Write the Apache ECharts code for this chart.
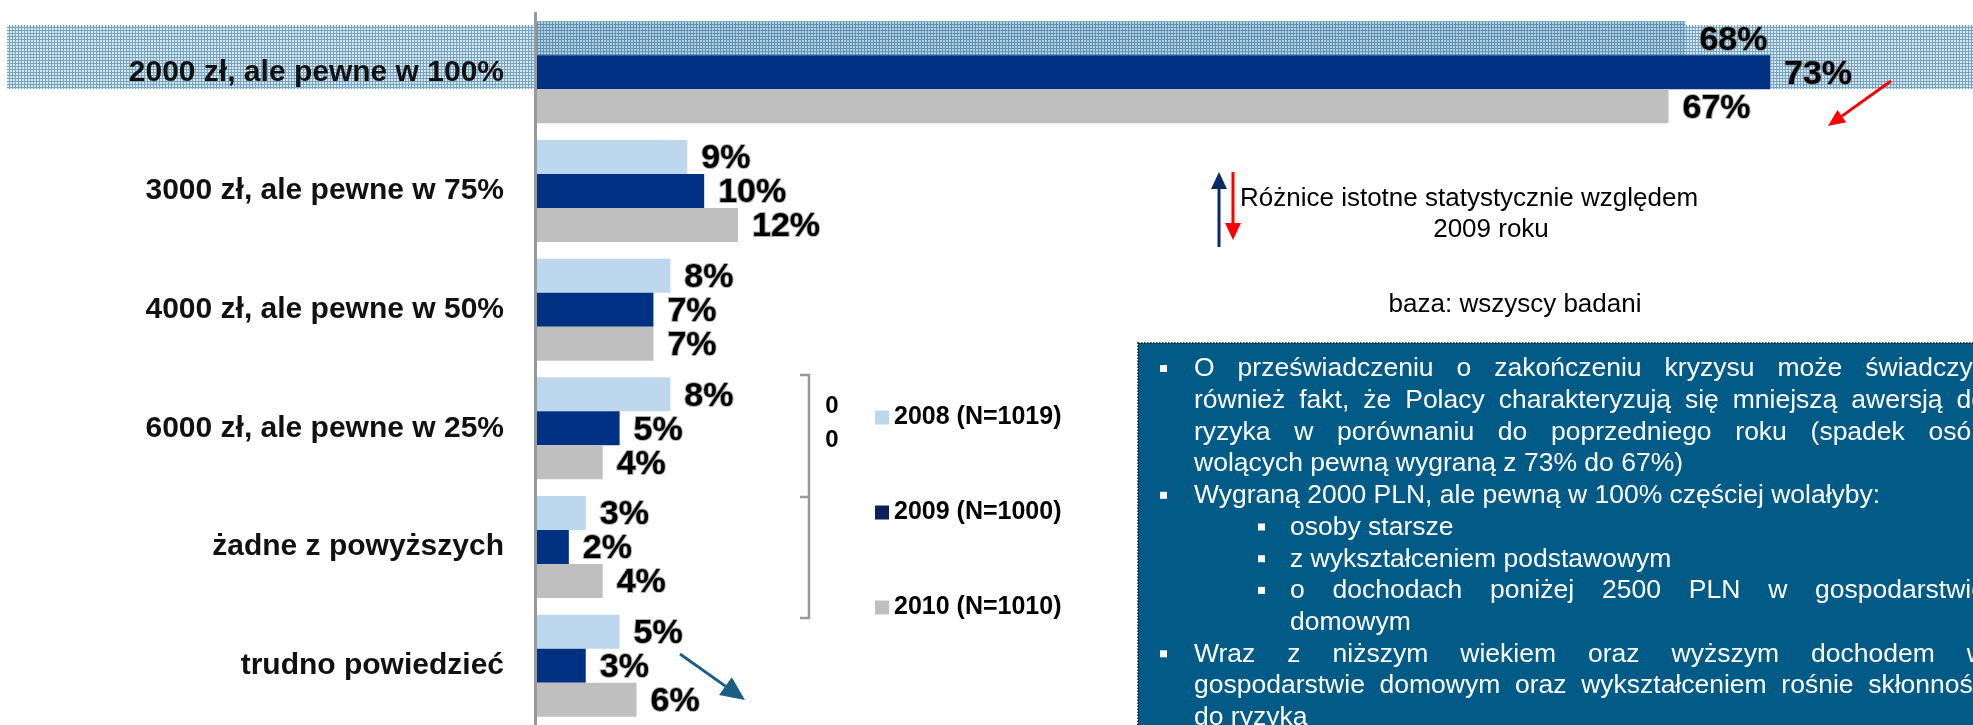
<!DOCTYPE html>
<html>
<head>
<meta charset="utf-8">
<script src="https://cdn.jsdelivr.net/npm/echarts@6/dist/echarts.min.js"></script>
<style>
  html, body { margin: 0; padding: 0; background: #fff; }
  #main { width: 1973px; height: 725px; }
</style>
</head>
<body>
<div id="main"></div>
<script>
// dane z wykresu
const categories = [
  '2000 zł, ale pewne w 100%',
  '3000 zł, ale pewne w 75%',
  '4000 zł, ale pewne w 50%',
  '6000 zł, ale pewne w 25%',
  'żadne z powyższych',
  'trudno powiedzieć'
];
const seriesNames = ['2008 (N=1019)', '2009 (N=1000)', '2010 (N=1010)'];
const values2008 = [68, 9, 8, 8, 3, 5];
const values2009 = [73, 10, 7, 5, 2, 3];
const values2010 = [67, 12, 7, 4, 4, 6];
const sideAxisLabels = ['0', '0'];

const noteLines = [
  { t: 'O przeświadczeniu o zakończeniu kryzysu może świadczyć', lvl: 0, bullet: true, just: true },
  { t: 'również fakt, że Polacy charakteryzują się mniejszą awersją do', lvl: 0, just: true },
  { t: 'ryzyka w porównaniu do poprzedniego roku  (spadek osób', lvl: 0, just: true },
  { t: 'wolących pewną wygraną z 73% do 67%)', lvl: 0 },
  { t: 'Wygraną 2000 PLN, ale pewną w 100% częściej wolałyby:', lvl: 0, bullet: true },
  { t: 'osoby starsze', lvl: 1, bullet: true },
  { t: 'z wykształceniem podstawowym', lvl: 1, bullet: true },
  { t: 'o dochodach poniżej 2500 PLN w gospodarstwie', lvl: 1, bullet: true, just: true },
  { t: 'domowym', lvl: 1 },
  { t: 'Wraz z niższym wiekiem oraz wyższym dochodem w', lvl: 0, bullet: true, just: true },
  { t: 'gospodarstwie domowym oraz wykształceniem rośnie skłonność', lvl: 0, just: true },
  { t: 'do ryzyka', lvl: 0 }
];

const barColors = ['#bdd7ee', '#003082', '#bfbfbf'];
const legendColors = ['#bdd7ee', '#0d1f5a', '#bfbfbf'];
const FONT = '"Liberation Sans", Arial, sans-serif';

var myChart = echarts.init(document.getElementById('main'));

// kratka (wyróżnienie pierwszego wiersza)
function makeTile(base, line) {
  const c = document.createElement('canvas');
  c.width = 3; c.height = 3;
  const g = c.getContext('2d');
  g.fillStyle = base;
  g.fillRect(0, 0, 3, 3);
  g.fillStyle = line;
  g.fillRect(0, 0, 3, 1);
  g.fillRect(0, 0, 1, 3);
  return c;
}
const rowTile = makeTile('#d9e7f0', '#76a3c0');
const barTile = makeTile('#b6d0e4', '#5f91b3');

function arrow(x1, y1, x2, y2, color, width, headLen, headW) {
  const a = Math.atan2(y2 - y1, x2 - x1);
  const bx = x2 - headLen * Math.cos(a), by = y2 - headLen * Math.sin(a);
  const nx = -Math.sin(a) * headW / 2, ny = Math.cos(a) * headW / 2;
  return [
    { type: 'line', z: 60, shape: { x1: x1, y1: y1, x2: bx, y2: by }, style: { stroke: color, lineWidth: width } },
    { type: 'polygon', z: 60, shape: { points: [[x2, y2], [bx + nx, by + ny], [bx - nx, by - ny]] }, style: { fill: color } }
  ];
}

// tekst w ramce, wyjustowany słowo po słowie
const measure = document.createElement('canvas').getContext('2d');
const noteFont = '26.5px ' + FONT;
measure.font = noteFont;
function noteElements() {
  const out = [];
  const right = 1986;
  noteLines.forEach(function (ln, i) {
    const y = 369 + i * 31.7;
    const x0 = ln.lvl === 0 ? 1194 : 1290;
    if (ln.bullet) {
      const bx = ln.lvl === 0 ? 1160 : 1258;
      out.push({ type: 'rect', z: 40, shape: { x: bx, y: y - 4, width: 7, height: 7 }, style: { fill: '#fff' } });
    }
    if (!ln.just) {
      out.push({ type: 'text', z: 40, x: x0, y: y, style: { text: ln.t, font: noteFont, fill: '#fff', verticalAlign: 'middle' } });
      return;
    }
    const words = ln.t.split(/\s+/);
    const widths = words.map(function (w) { return measure.measureText(w).width; });
    const total = widths.reduce(function (s, w) { return s + w; }, 0);
    const gap = (right - x0 - total) / (words.length - 1);
    let x = x0;
    words.forEach(function (w, k) {
      out.push({ type: 'text', z: 40, x: x, y: y, style: { text: w, font: noteFont, fill: '#fff', verticalAlign: 'middle' } });
      x += widths[k] + gap;
    });
  });
  return out;
}

const valueLabel = {
  show: true,
  position: 'right',
  distance: 14,
  offset: [0, 2],
  formatter: '{c}%',
  fontFamily: FONT,
  fontSize: 34,
  fontWeight: 'bold',
  color: '#000',
  textBorderColor: 'rgba(110,110,110,0.55)',
  textBorderWidth: 2
};

const graphics = [
  // kratka pod pierwszym wierszem
  { type: 'rect', z: 1, shape: { x: 7, y: 25, width: 1966, height: 64 }, style: { fill: { image: rowTile, repeat: 'repeat' } } },
  // nawias drugiej osi
  { type: 'polyline', z: 10, shape: { points: [[800, 375], [809, 375], [809, 618], [800, 618]] }, style: { stroke: '#999', lineWidth: 2.5, fill: null } },
  { type: 'line', z: 10, shape: { x1: 800, y1: 497, x2: 809, y2: 497 }, style: { stroke: '#999', lineWidth: 2.5 } },
  { type: 'text', z: 10, x: 832, y: 406, style: { text: sideAxisLabels[0], font: 'bold 24px ' + FONT, fill: '#000', align: 'center', verticalAlign: 'middle' } },
  { type: 'text', z: 10, x: 832, y: 440, style: { text: sideAxisLabels[1], font: 'bold 24px ' + FONT, fill: '#000', align: 'center', verticalAlign: 'middle' } },
  // opis strzałek
  { type: 'text', z: 10, x: 1240, y: 199, style: { text: 'Różnice istotne statystycznie względem', font: '26px ' + FONT, fill: '#000', verticalAlign: 'middle' } },
  { type: 'text', z: 10, x: 1491, y: 230, style: { text: '2009 roku', font: '26px ' + FONT, fill: '#000', align: 'center', verticalAlign: 'middle' } },
  { type: 'text', z: 10, x: 1515, y: 305, style: { text: 'baza: wszyscy badani', font: '26px ' + FONT, fill: '#000', align: 'center', verticalAlign: 'middle' } },
  // ramka z komentarzem
  { type: 'rect', z: 30, shape: { x: 1138, y: 343, width: 900, height: 500 }, style: { fill: '#025b86', stroke: '#111', lineWidth: 1.5, lineDash: [1.5, 1.5] } }
]
  .concat(arrow(1219, 247, 1219, 172, '#0c2a6a', 3, 17, 16))
  .concat(arrow(1233, 172, 1233, 240, '#ff0000', 3, 17, 16))
  .concat(arrow(1891, 81, 1828, 126, '#ff0000', 3, 17, 15))
  .concat(arrow(680, 654, 745, 700, '#1b5e84', 3, 24, 22))
  .concat(noteElements());

var option = {
  backgroundColor: '#fff',
  animation: false,
  grid: { left: 535, top: 13, width: 1445, height: 713 },
  legend: {
    orient: 'vertical',
    left: 875,
    top: 405,
    padding: 0,
    itemWidth: 14,
    itemHeight: 14,
    itemGap: 70,
    icon: 'rect',
    selectedMode: false,
    textStyle: { fontFamily: FONT, fontSize: 25, fontWeight: 'bold', color: '#000', lineHeight: 25 },
    data: seriesNames.map(function (n, i) { return { name: n, itemStyle: { color: legendColors[i] } }; })
  },
  xAxis: { type: 'value', min: 0, max: 85, show: false },
  yAxis: {
    type: 'category',
    data: categories,
    inverse: true,
    z: 5,
    axisLine: { lineStyle: { color: '#999', width: 3 } },
    axisTick: { length: 9, lineStyle: { color: '#999', width: 3 } },
    axisLabel: { margin: 31, fontFamily: FONT, fontSize: 30, fontWeight: 'bold', color: '#111' }
  },
  series: [
    {
      name: seriesNames[0], type: 'bar', z: 3,
      // pierwszy słupek leży na kratce
      data: values2008.map(function (v, i) { return i === 0 ? { value: v, itemStyle: { color: { image: barTile, repeat: 'repeat' } } } : v; }),
      itemStyle: { color: barColors[0] }, barGap: '0%', barCategoryGap: '14%', label: valueLabel
    },
    { name: seriesNames[1], type: 'bar', z: 3, data: values2009, itemStyle: { color: barColors[1] }, barGap: '0%', barCategoryGap: '14%', label: valueLabel },
    { name: seriesNames[2], type: 'bar', z: 3, data: values2010, itemStyle: { color: barColors[2] }, barGap: '0%', barCategoryGap: '14%', label: valueLabel }
  ],
  graphic: graphics
};

myChart.setOption(option);
</script>
</body>
</html>
